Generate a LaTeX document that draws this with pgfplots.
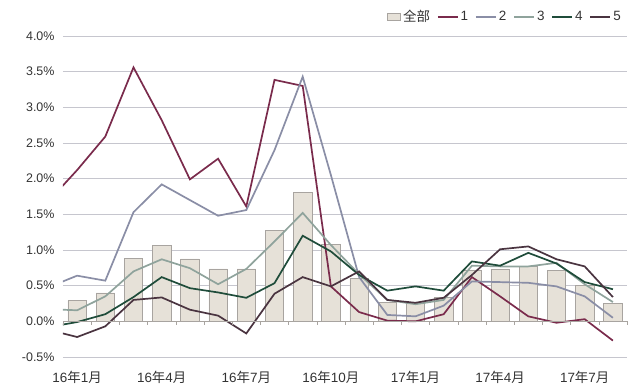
\documentclass[border=0pt]{standalone}
\usepackage{fontspec}
\setmainfont{Liberation Sans}
\newfontfamily\cjk{Noto Sans CJK SC}
\usepackage{pgfplots}
\pgfplotsset{compat=1.18}
\usepackage{pgfplotstable}

\definecolor{barfill}{HTML}{E6E1D8}
\definecolor{baredge}{HTML}{A8A4A0}
\definecolor{cA}{HTML}{7A2B4C}
\definecolor{cB}{HTML}{8A8EA6}
\definecolor{cC}{HTML}{8FA39C}
\definecolor{cD}{HTML}{1F4C3A}
\definecolor{cE}{HTML}{4A3440}
\definecolor{gridc}{HTML}{C6C6CE}

\pgfplotsset{
  barlegend/.style={legend image code/.code={\draw[##1] (0bp,-3.5bp) rectangle (13bp,3.5bp);}},
  linelegend/.style={legend image code/.code={\draw[##1] (0bp,0bp) -- (20bp,0bp);}},
}

\pgfplotstableread{
x all
0 0.29
1 0.40
2 0.885
3 1.07
4 0.875
5 0.735
6 0.735
7 1.27
8 1.81
9 1.075
10 0.60
11 0.27
12 0.25
13 0.33
14 0.72
15 0.735
16 0.77
17 0.71
18 0.50
19 0.25
}\bars

\pgfplotstableread{
x s1 s2 s3 s4 s5
-1 1.69 0.48 0.17 -0.08 -0.12
0 2.12 0.64 0.155 -0.01 -0.22
1 2.59 0.57 0.35 0.10 -0.07
2 3.56 1.53 0.70 0.34 0.30
3 2.82 1.92 0.87 0.62 0.335
4 1.99 1.70 0.745 0.465 0.163
5 2.28 1.48 0.52 0.405 0.08
6 1.61 1.56 0.735 0.33 -0.17
7 3.385 2.40 1.12 0.535 0.387
8 3.30 3.43 1.52 1.20 0.62
9 0.49 2.05 1.07 0.98 0.49
10 0.13 0.62 0.66 0.65 0.70
11 0.01 0.09 0.30 0.43 0.30
12 0.00 0.07 0.24 0.49 0.26
13 0.10 0.22 0.30 0.43 0.33
14 0.62 0.56 0.78 0.84 0.65
15 0.35 0.55 0.77 0.78 1.01
16 0.07 0.54 0.77 0.96 1.05
17 -0.02 0.49 0.82 0.81 0.87
18 0.03 0.35 0.52 0.55 0.77
19 -0.27 0.05 0.27 0.45 0.34
}\lines

\begin{document}
\begin{tikzpicture}
\useasboundingbox (-63bp,-34bp) rectangle (577bp,357bp);
\begin{axis}[
  at={(0,0)}, anchor=south west,
  scale only axis,
  width=564bp, height=321bp,
  xmin=-0.5, xmax=19.5,
  ymin=-0.5, ymax=4.0,
  ytick={-0.5,0,0.5,1,1.5,2,2.5,3,3.5,4},
  xtick={0,3,6,9,12,15,18},
  xticklabels={16{\cjk 年}1{\cjk 月},16{\cjk 年}4{\cjk 月},16{\cjk 年}7{\cjk 月},16{\cjk 年}10{\cjk 月},17{\cjk 年}1{\cjk 月},17{\cjk 年}4{\cjk 月},17{\cjk 年}7{\cjk 月}},
  yticklabel={\pgfmathprintnumber[fixed,fixed zerofill,precision=1]{\tick}\%},
  /pgf/number format/assume math mode=true,
  major tick length=0pt,
  axis line style={draw=none},
  ymajorgrids,
  grid style={gridc, line width=0.8bp},
  yticklabel style={font=\fontsize{12.5}{14}\selectfont, text=black!80, xshift=-5bp},
  xticklabel style={font=\fontsize{13.5}{15}\selectfont, text=black!80, yshift=-11bp},
  legend style={at={(1,1)}, anchor=east, xshift=-4bp, yshift=19bp, draw=none, fill=none,
    font=\fontsize{13.5}{15}\selectfont, text=black!80, inner sep=0pt},
  legend columns=6,
  legend cell align=left,
  /tikz/every even column/.append style={column sep=5bp},
]
\addplot[ybar, bar width=18.5bp, fill=barfill, draw=baredge, line width=0.6bp, barlegend]
  table[x=x,y=all]{\bars};
\addlegendentry{\cjk 全部}
\addplot[cA, line width=1.7bp, mark=none, linelegend] table[x=x,y=s1]{\lines};
\addlegendentry{1}
\addplot[cB, line width=1.7bp, mark=none, linelegend] table[x=x,y=s2]{\lines};
\addlegendentry{2}
\addplot[cC, line width=1.7bp, mark=none, linelegend] table[x=x,y=s3]{\lines};
\addlegendentry{3}
\addplot[cD, line width=1.7bp, mark=none, linelegend] table[x=x,y=s4]{\lines};
\addlegendentry{4}
\addplot[cE, line width=1.7bp, mark=none, linelegend] table[x=x,y=s5]{\lines};
\addlegendentry{5}
\draw[baredge, line width=0.8bp] (axis cs:-0.5,0) -- (axis cs:19.5,0);
\end{axis}
\foreach \i in {0,...,20} {
  \draw[baredge, line width=0.6bp] (\i*28.2bp, 35.67bp) -- ++(0bp,-4bp);
}
\end{tikzpicture}
\end{document}
